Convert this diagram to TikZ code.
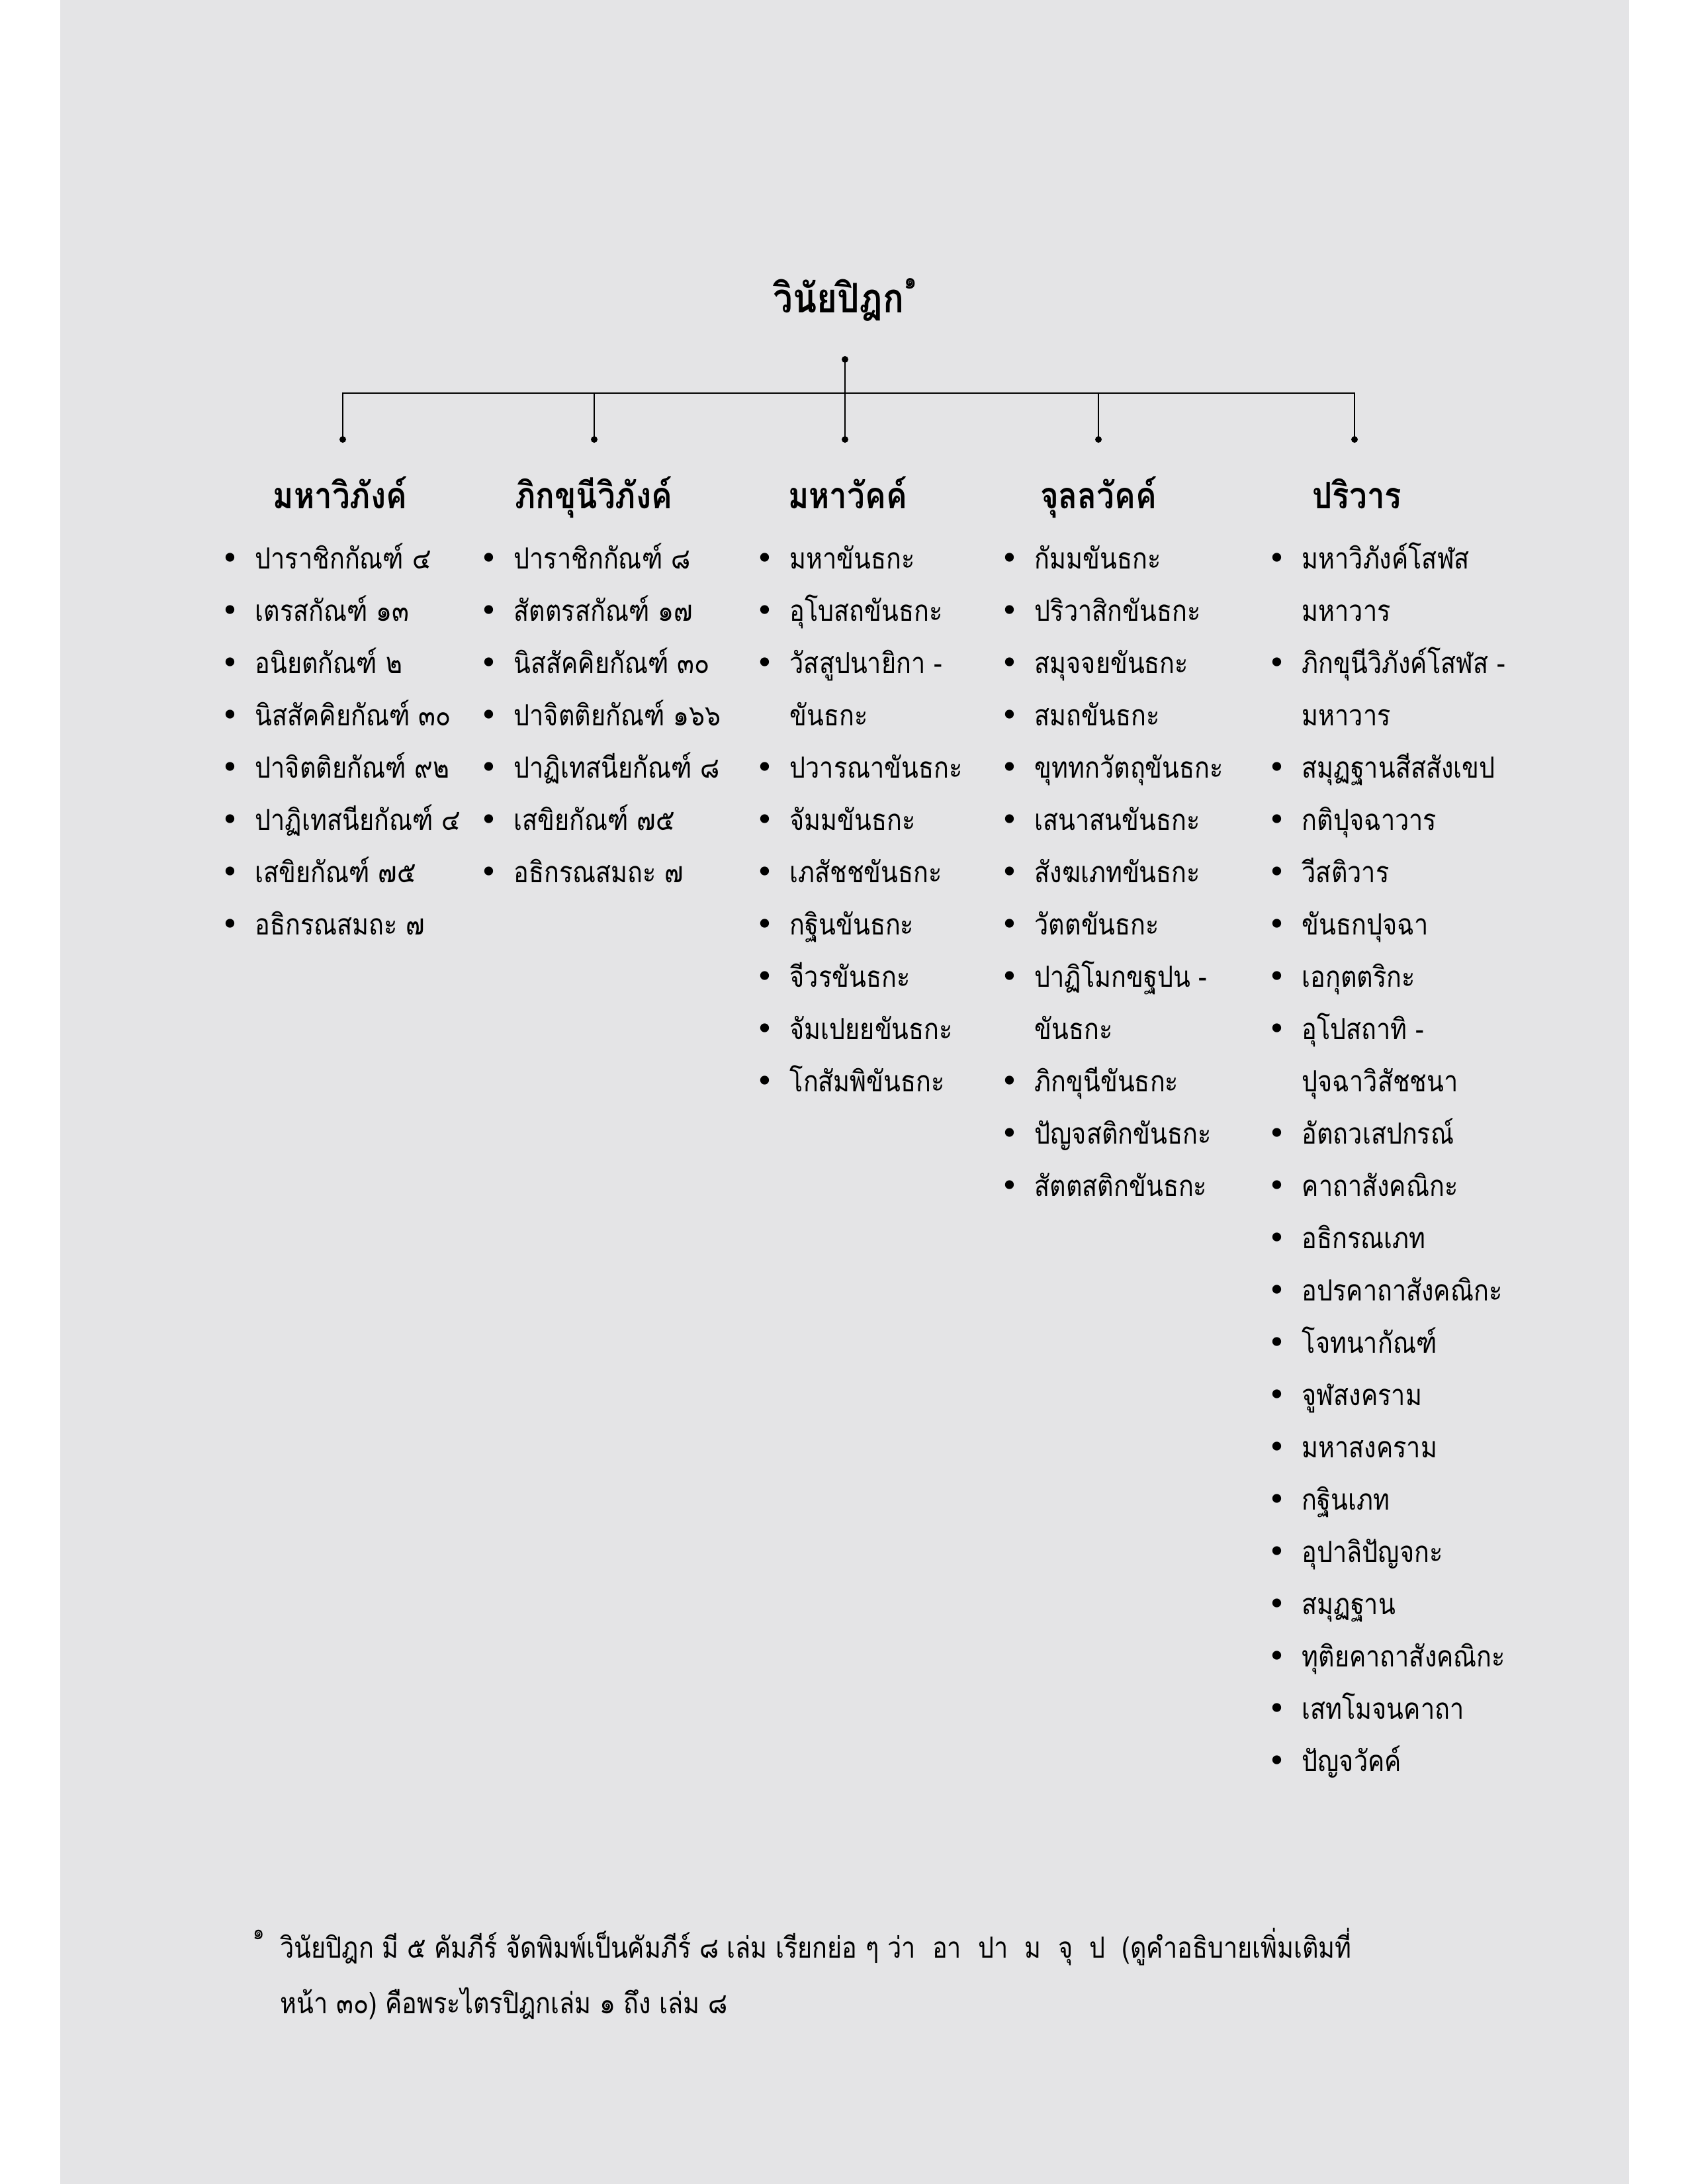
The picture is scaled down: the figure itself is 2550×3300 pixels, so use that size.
\documentclass[tikz,border=0pt]{standalone}
\usepackage{fontspec}
\newfontfamily\thaifont[Script=Thai,FakeStretch=0.86]{Loma}
\newfontfamily\bulletfont{DejaVu Sans}
\definecolor{pagegray}{HTML}{E4E4E6}
\tikzset{
  vtitle/.style={font=\thaifont\bfseries\fontsize{17.5}{21}\selectfont, anchor=base, inner sep=0pt},
  vhead/.style={font=\thaifont\bfseries\fontsize{15.7}{19}\selectfont, anchor=base, inner sep=0pt},
  ventry/.style={font=\thaifont\fontsize{12.5}{15}\selectfont, anchor=base west, inner sep=0pt},
  vitem/.style={ventry, execute at begin node={\llap{{\bulletfont\fontsize{13}{15}\selectfont •}\hspace{7pt}}}},
  vnote/.style={font=\thaifont\fontsize{12.5}{15}\selectfont, anchor=base west, inner sep=0pt},
  vmark/.style={font=\thaifont\fontsize{9}{11}\selectfont, anchor=base west, inner sep=0pt},
  branch/.style={line width=0.6pt},
}
\begin{document}
\begin{tikzpicture}[x=0.01cm,y=-0.01cm]
  \useasboundingbox (0,0) rectangle (2550,3300);
  \fill[pagegray] (91,0) rectangle (2462,3300);

  % title and tree
  \node[vtitle] (title) at (1277,472) {วินัยปิฎก\raisebox{1.1ex}{\fontsize{10}{12}\selectfont ๑}};
  \coordinate (root) at (1277,543);
  \coordinate (hub) at (1277,594);
  \coordinate (d1) at (518,664);
  \coordinate (d2) at (898,664);
  \coordinate (d3) at (1277,664);
  \coordinate (d4) at (1660,664);
  \coordinate (d5) at (2047,664);
  \draw[branch] (root) -- (d3);
  \draw[branch] (d1) |- (hub) -| (d5);
  \draw[branch] (d2 |- hub) -- (d2);
  \draw[branch] (d4 |- hub) -- (d4);
  \fill (root) circle[radius=5];
  \fill (d1) circle[radius=5];
  \fill (d2) circle[radius=5];
  \fill (d3) circle[radius=5];
  \fill (d4) circle[radius=5];
  \fill (d5) circle[radius=5];

  \node[vhead] (h1) at (514,768) {มหาวิภังค์};
  \node[vhead] (h2) at (897,768) {ภิกขุนีวิภังค์};
  \node[vhead] (h3) at (1281,768) {มหาวัคค์};
  \node[vhead] (h4) at (1660,768) {จุลลวัคค์};
  \node[vhead] (h5) at (2051,768) {ปริวาร};

  % mahavibhanga
  \node[vitem] (mv1) at (385,859) {ปาราชิกกัณฑ์ ๔};
  \node[vitem] (mv2) at (385,938) {เตรสกัณฑ์ ๑๓};
  \node[vitem] (mv3) at (385,1017) {อนิยตกัณฑ์ ๒};
  \node[vitem] (mv4) at (385,1096) {นิสสัคคิยกัณฑ์ ๓๐};
  \node[vitem] (mv5) at (385,1175) {ปาจิตติยกัณฑ์ ๙๒};
  \node[vitem] (mv6) at (385,1254) {ปาฏิเทสนียกัณฑ์ ๔};
  \node[vitem] (mv7) at (385,1333) {เสขิยกัณฑ์ ๗๕};
  \node[vitem] (mv8) at (385,1412) {อธิกรณสมถะ ๗};

  % bhikkhunivibhanga
  \node[vitem] (bv1) at (776,859) {ปาราชิกกัณฑ์ ๘};
  \node[vitem] (bv2) at (776,938) {สัตตรสกัณฑ์ ๑๗};
  \node[vitem] (bv3) at (776,1017) {นิสสัคคิยกัณฑ์ ๓๐};
  \node[vitem] (bv4) at (776,1096) {ปาจิตติยกัณฑ์ ๑๖๖};
  \node[vitem] (bv5) at (776,1175) {ปาฏิเทสนียกัณฑ์ ๘};
  \node[vitem] (bv6) at (776,1254) {เสขิยกัณฑ์ ๗๕};
  \node[vitem] (bv7) at (776,1333) {อธิกรณสมถะ ๗};

  % mahavagga
  \node[vitem] (mk1) at (1193,859) {มหาขันธกะ};
  \node[vitem] (mk2) at (1193,938) {อุโบสถขันธกะ};
  \node[vitem] (mk3) at (1193,1017) {วัสสูปนายิกา -};
  \node[ventry] (mk3b) at (1193,1096) {ขันธกะ};
  \node[vitem] (mk4) at (1193,1175) {ปวารณาขันธกะ};
  \node[vitem] (mk5) at (1193,1254) {จัมมขันธกะ};
  \node[vitem] (mk6) at (1193,1333) {เภสัชชขันธกะ};
  \node[vitem] (mk7) at (1193,1412) {กฐินขันธกะ};
  \node[vitem] (mk8) at (1193,1491) {จีวรขันธกะ};
  \node[vitem] (mk9) at (1193,1570) {จัมเปยยขันธกะ};
  \node[vitem] (mk10) at (1193,1649) {โกสัมพิขันธกะ};

  % culavagga
  \node[vitem] (jk1) at (1563,859) {กัมมขันธกะ};
  \node[vitem] (jk2) at (1563,938) {ปริวาสิกขันธกะ};
  \node[vitem] (jk3) at (1563,1017) {สมุจจยขันธกะ};
  \node[vitem] (jk4) at (1563,1096) {สมถขันธกะ};
  \node[vitem] (jk5) at (1563,1175) {ขุททกวัตถุขันธกะ};
  \node[vitem] (jk6) at (1563,1254) {เสนาสนขันธกะ};
  \node[vitem] (jk7) at (1563,1333) {สังฆเภทขันธกะ};
  \node[vitem] (jk8) at (1563,1412) {วัตตขันธกะ};
  \node[vitem] (jk9) at (1563,1491) {ปาฏิโมกขฐปน -};
  \node[ventry] (jk9b) at (1563,1570) {ขันธกะ};
  \node[vitem] (jk10) at (1563,1649) {ภิกขุนีขันธกะ};
  \node[vitem] (jk11) at (1563,1728) {ปัญจสติกขันธกะ};
  \node[vitem] (jk12) at (1563,1807) {สัตตสติกขันธกะ};

  % parivara
  \node[vitem] (pv1) at (1967,859) {มหาวิภังค์โสฬส};
  \node[ventry] (pv1b) at (1967,938) {มหาวาร};
  \node[vitem] (pv2) at (1967,1017) {ภิกขุนีวิภังค์โสฬส -};
  \node[ventry] (pv2b) at (1967,1096) {มหาวาร};
  \node[vitem] (pv3) at (1967,1175) {สมุฏฐานสีสสังเขป};
  \node[vitem] (pv4) at (1967,1254) {กติปุจฉาวาร};
  \node[vitem] (pv5) at (1967,1333) {วีสติวาร};
  \node[vitem] (pv6) at (1967,1412) {ขันธกปุจฉา};
  \node[vitem] (pv7) at (1967,1491) {เอกุตตริกะ};
  \node[vitem] (pv8) at (1967,1570) {อุโปสถาทิ -};
  \node[ventry] (pv8b) at (1967,1649) {ปุจฉาวิสัชชนา};
  \node[vitem] (pv9) at (1967,1728) {อัตถวเสปกรณ์};
  \node[vitem] (pv10) at (1967,1807) {คาถาสังคณิกะ};
  \node[vitem] (pv11) at (1967,1886) {อธิกรณเภท};
  \node[vitem] (pv12) at (1967,1965) {อปรคาถาสังคณิกะ};
  \node[vitem] (pv13) at (1967,2044) {โจทนากัณฑ์};
  \node[vitem] (pv14) at (1967,2123) {จูฬสงคราม};
  \node[vitem] (pv15) at (1967,2202) {มหาสงคราม};
  \node[vitem] (pv16) at (1967,2281) {กฐินเภท};
  \node[vitem] (pv17) at (1967,2360) {อุปาลิปัญจกะ};
  \node[vitem] (pv18) at (1967,2439) {สมุฏฐาน};
  \node[vitem] (pv19) at (1967,2518) {ทุติยคาถาสังคณิกะ};
  \node[vitem] (pv20) at (1967,2597) {เสทโมจนคาถา};
  \node[vitem] (pv21) at (1967,2676) {ปัญจวัคค์};

  % footnote
  \node[vmark] (fnmark) at (382,2930) {๑};
  \node[vnote] (fn1) at (423,2958) {\makebox[16.18cm][s]{วินัยปิฎก มี ๕ คัมภีร์ จัดพิมพ์เป็นคัมภีร์ ๘ เล่ม เรียกย่อ ๆ ว่า\ \ อา\ \ ปา\ \ ม\ \ จุ\ \ ป\ \ (ดูคำอธิบายเพิ่มเติมที่}};
  \node[vnote] (fn2) at (423,3042) {หน้า ๓๐) คือพระไตรปิฎกเล่ม ๑ ถึง เล่ม ๘};
\end{tikzpicture}
\end{document}
